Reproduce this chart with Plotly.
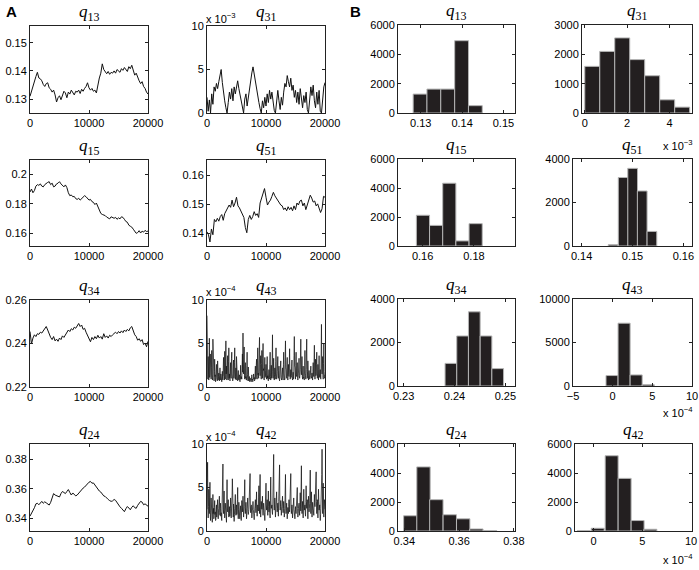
import plotly.graph_objects as go

W, H = 699, 570

# ---------------- data ----------------
iter_250 = list(range(0, 20001, 250))
iter_200 = list(range(0, 20001, 200))
iter_50 = list(range(0, 20001, 50))

q13_trace = [0.131, 0.133, 0.1345, 0.137, 0.138, 0.1395, 0.1375, 0.1372, 0.1365, 0.1352,
             0.1345, 0.1355, 0.1358, 0.134, 0.1335, 0.1325, 0.1332, 0.1315, 0.129, 0.1305,
             0.1312, 0.1298, 0.1318, 0.1328, 0.1322, 0.1305, 0.1325, 0.1318, 0.1332, 0.1322,
             0.1315, 0.1328, 0.1325, 0.1332, 0.132, 0.1335, 0.1328, 0.1338, 0.1345, 0.1358,
             0.134, 0.1332, 0.1338, 0.1328, 0.1332, 0.1322, 0.1352, 0.1375, 0.1392, 0.1425,
             0.1405, 0.1395, 0.139, 0.1398, 0.1388, 0.1395, 0.1392, 0.140, 0.1392, 0.1405,
             0.1398, 0.1395, 0.1408, 0.1402, 0.1412, 0.1405, 0.1398, 0.1415, 0.1408, 0.142,
             0.1402, 0.1385, 0.1392, 0.1375, 0.1365, 0.1355, 0.1362, 0.1345, 0.1338, 0.1325,
             0.1318]

q31_trace = [1.8, 0.2, 1.5, 0.0, 2.2, 1.0, 3.0, 2.5, 3.4, 2.8,
             3.6, 4.2, 5.0, 3.5, 2.2, 1.4, 0.6, 0.0, 1.2, 2.4,
             1.6, 2.8, 1.4, 3.0, 2.2, 3.2, 3.7, 2.8, 2.0, 1.1,
             0.4, 0.0, 1.6, 2.2, 0.8, 1.8, 3.2, 4.0, 4.6, 5.3,
             4.4, 3.8, 2.6, 2.0, 1.2, 0.5, 0.0, 1.4, 0.6, 1.8,
             0.8, 2.2, 1.2, 2.6, 1.6, 2.4, 1.0, 0.3, 0.0, 1.2,
             2.6, 1.4, 0.4, 1.8, 0.9, 2.4, 3.4, 3.0, 4.3, 3.6,
             3.0, 4.0, 2.6, 3.2, 1.8, 2.6, 1.2, 2.4, 1.0, 2.8,
             1.6, 0.6, 2.0, 1.2, 2.4, 0.4, 0.0, 1.6, 3.0, 2.0,
             3.2, 1.4, 0.6, 2.4, 1.0, 2.6, 0.2, 0.0, 2.2, 3.0,
             3.5]

q15_trace = [0.188, 0.190, 0.1875, 0.189, 0.192, 0.193, 0.1925, 0.1935, 0.192, 0.1915,
             0.193, 0.194, 0.1945, 0.195, 0.193, 0.194, 0.1915, 0.192, 0.1935, 0.194,
             0.195, 0.1935, 0.1925, 0.1915, 0.1928, 0.191, 0.1875, 0.1855, 0.186, 0.1848,
             0.185, 0.1835, 0.183, 0.1838, 0.1825, 0.1835, 0.184, 0.1855, 0.1848, 0.1832,
             0.1825, 0.183, 0.1815, 0.181, 0.1795, 0.1805, 0.178, 0.1765, 0.1735, 0.1728,
             0.1725, 0.172, 0.171, 0.1705, 0.1698, 0.1712, 0.1705, 0.1702, 0.1708, 0.1695,
             0.1705, 0.1698, 0.1712, 0.1708, 0.1695, 0.168, 0.1675, 0.1655, 0.1648, 0.1642,
             0.1628, 0.1615, 0.160, 0.1605, 0.1618, 0.1602, 0.1615, 0.1608, 0.162, 0.1612,
             0.1615]

q51_trace = [0.1405, 0.1395, 0.1370, 0.1415, 0.1395, 0.1448, 0.1440, 0.1452, 0.1442, 0.1458,
             0.1465, 0.1445, 0.1468, 0.1478, 0.1485, 0.1498, 0.1490, 0.1515, 0.1492, 0.1505,
             0.1525, 0.1495, 0.1488, 0.1478, 0.1465, 0.1455, 0.1420, 0.1402, 0.1448, 0.1462,
             0.1448, 0.1458, 0.1475, 0.1462, 0.1468, 0.1455, 0.1505, 0.1522, 0.1538, 0.1555,
             0.1525, 0.1498, 0.1508, 0.1515, 0.1528, 0.1542, 0.1530, 0.1522, 0.1512, 0.1505,
             0.1498, 0.1495, 0.1482, 0.1488, 0.1478, 0.1492, 0.1482, 0.1490, 0.1478, 0.1495,
             0.1482, 0.1505, 0.1498, 0.1512, 0.1515, 0.1495, 0.1505, 0.1482, 0.1498, 0.1515,
             0.1532, 0.1522, 0.1508, 0.1512, 0.1495, 0.1502, 0.1488, 0.1472, 0.1485, 0.1528,
             0.1525]

q34_trace = [0.2455, 0.2398, 0.2425, 0.2440, 0.2432, 0.2445, 0.2442, 0.2452, 0.2448, 0.2460,
             0.2465, 0.2478, 0.2462, 0.2442, 0.2428, 0.2418, 0.2432, 0.2412, 0.2420, 0.2410,
             0.2425, 0.2418, 0.2435, 0.2428, 0.2440, 0.2448, 0.2462, 0.2455, 0.2468, 0.2462,
             0.2475, 0.2470, 0.2482, 0.2492, 0.2478, 0.2485, 0.2465, 0.2470, 0.2452, 0.2435,
             0.2425, 0.2408, 0.2428, 0.2418, 0.2432, 0.2422, 0.2438, 0.2425, 0.2432, 0.2420,
             0.2445, 0.2428, 0.2435, 0.2425, 0.2438, 0.2432, 0.2440, 0.2448, 0.2452, 0.2445,
             0.2455, 0.2448, 0.2458, 0.2450, 0.2462, 0.2455, 0.2465, 0.2458, 0.2472, 0.2478,
             0.2455, 0.2440, 0.2432, 0.2415, 0.2422, 0.2410, 0.2418, 0.2395, 0.2402, 0.2385,
             0.2410]

q43_trace = [8.2, 2.5, 1.2, 0.9, 3.5, 1.6, 0.8, 2.9, 5.6, 1.1, 1.5, 3.8, 2.8, 1.0, 0.9, 2.2, 4.2, 1.4, 1.1, 0.8,
             5.5, 2.4, 2.0, 0.9, 0.7, 1.8, 3.2, 1.2, 1.4, 0.6, 0.9, 2.0, 2.6, 1.1, 1.0, 0.7, 3.0, 1.5, 0.8, 1.2,
             1.6, 0.9, 0.7, 1.3, 2.2, 0.8, 0.9, 1.5, 1.3, 0.7, 0.6, 1.2, 1.8, 0.9, 0.8, 2.0, 3.4, 1.3, 1.2, 0.8,
             4.1, 1.6, 0.9, 2.8, 5.3, 1.5, 2.4, 0.8, 1.0, 2.2, 3.6, 1.1, 0.8, 2.9, 4.5, 1.0, 1.5, 0.9, 0.7, 1.8,
             2.8, 1.2, 1.0, 3.3, 4.0, 1.5, 1.3, 0.7, 0.8, 2.4, 3.1, 1.0, 1.1, 2.8, 4.5, 1.6, 0.9, 1.2, 2.2, 0.8,
             3.5, 1.4, 1.0, 0.8, 0.7, 1.5, 1.9, 0.9, 0.8, 1.2, 1.4, 0.7, 0.6, 1.3, 2.5, 0.9, 1.2, 2.0, 0.9, 2.6,
             3.8, 1.7, 6.2, 2.0, 1.5, 3.0, 4.6, 1.3, 0.9, 2.1, 2.8, 1.0, 1.2, 0.8, 0.8, 2.5, 4.0, 1.4, 1.1, 0.7,
             2.3, 1.0, 0.7, 1.1, 1.2, 0.6, 0.8, 1.0, 1.0, 0.7, 0.6, 1.2, 1.4, 0.8, 0.9, 0.6, 0.7, 1.1, 1.5, 0.9,
             1.1, 0.7, 0.8, 1.6, 2.4, 0.9, 1.0, 2.5, 3.2, 1.2, 0.9, 3.0, 4.5, 1.4, 1.6, 1.0, 2.8, 3.9, 5.7, 1.8,
             1.3, 2.6, 3.6, 1.2, 0.9, 2.7, 4.2, 1.5, 1.0, 3.3, 5.0, 1.9, 2.1, 0.9, 0.8, 2.4, 3.4, 1.1, 1.2, 1.9,
             2.6, 1.3, 0.9, 2.2, 3.5, 1.0, 1.3, 0.8, 0.7, 1.5, 2.0, 0.9, 1.1, 2.6, 4.0, 1.2, 0.8, 1.7, 2.5, 1.0,
             1.4, 3.1, 6.0, 1.8, 1.0, 2.3, 3.3, 1.1, 0.8, 1.4, 2.2, 0.9, 1.2, 2.9, 4.5, 1.5, 0.9, 1.1, 1.8, 2.6,
             3.5, 1.3, 1.0, 1.9, 2.4, 0.9, 0.7, 1.1, 1.6, 2.4, 3.0, 1.1, 0.9, 0.8, 1.4, 1.9, 2.2, 1.0, 0.8, 2.6,
             4.0, 1.5, 1.3, 0.8, 0.9, 3.4, 5.3, 2.2, 2.0, 1.0, 1.1, 2.6, 3.4, 1.2, 0.8, 1.7, 2.6, 1.4, 1.2, 2.9,
             4.4, 1.6, 0.9, 1.2, 2.0, 1.1, 1.3, 2.4, 3.1, 1.0, 0.8, 1.2, 1.7, 0.9, 1.0, 3.6, 5.8, 2.4, 2.2, 1.0,
             0.9, 2.5, 4.0, 1.4, 1.2, 2.1, 2.8, 1.0, 0.8, 1.1, 1.6, 2.4, 3.3, 1.3, 1.0, 1.4, 2.0, 3.6, 5.5, 1.9,
             1.4, 2.2, 3.5, 1.2, 0.9, 1.7, 2.4, 1.0, 1.1, 0.9, 0.8, 2.5, 4.2, 1.6, 1.3, 0.9, 2.0, 3.5, 5.5, 2.0,
             1.0, 1.8, 3.0, 1.1, 0.8, 1.3, 1.9, 0.9, 0.9, 1.0, 1.3, 1.9, 2.4, 1.2, 1.0, 1.3, 1.6, 1.0, 0.8, 1.8,
             2.8, 1.4, 1.2, 2.9, 4.8, 1.6, 0.9, 1.8, 3.2, 1.3, 1.4, 2.6, 4.0, 1.5, 1.0, 1.6, 2.6, 1.2, 0.8, 2.0,
             3.6, 1.5, 1.1, 1.4, 2.0, 1.0, 0.9, 3.8, 7.2, 2.3, 1.5, 2.2, 3.5, 1.3, 0.9, 2.7, 5.0, 1.8, 1.2, 1.0,
             1.4]

q24_trace = [0.3415, 0.3432, 0.3448, 0.3472, 0.3498, 0.3502, 0.3492, 0.3508, 0.3515, 0.3502,
             0.3512, 0.3505, 0.3498, 0.3490, 0.3508, 0.3532, 0.3568, 0.3558, 0.3552, 0.3548,
             0.3545, 0.3568, 0.3582, 0.3575, 0.3568, 0.3582, 0.3595, 0.3575, 0.3558, 0.3572,
             0.3565, 0.3552, 0.3558, 0.3572, 0.3585, 0.3592, 0.3605, 0.3612, 0.3625, 0.3632,
             0.3645, 0.3650, 0.3638, 0.3640, 0.3625, 0.3612, 0.3598, 0.3585, 0.3578, 0.3565,
             0.3552, 0.3548, 0.3535, 0.3528, 0.3520, 0.3515, 0.3518, 0.3528, 0.3522, 0.3505,
             0.3490, 0.3478, 0.3468, 0.3455, 0.3445, 0.3465, 0.3480, 0.3470, 0.3458, 0.3475,
             0.3485, 0.3472, 0.3468, 0.3488, 0.3502, 0.3515, 0.3510, 0.3492, 0.3498, 0.3488,
             0.3482]

q42_trace = [2.5, 4.6, 7.9, 3.0, 1.5, 2.8, 4.8, 2.2, 2.0, 3.9, 5.6, 2.1, 1.2, 2.4, 3.8, 1.8, 2.4, 1.5, 1.0, 3.1,
             4.2, 2.0, 2.6, 1.4, 1.6, 2.7, 3.5, 1.9, 2.2, 1.2, 1.3, 2.5, 3.0, 1.6, 2.0, 2.9, 3.6, 2.2, 1.4, 2.3,
             2.6, 3.3, 4.0, 2.1, 1.8, 2.6, 3.2, 1.7, 2.1, 1.5, 1.2, 2.4, 3.4, 5.1, 7.7, 2.5, 2.0, 3.3, 4.6, 2.4,
             1.5, 2.3, 3.2, 1.8, 2.4, 1.3, 1.0, 3.6, 5.9, 2.4, 2.2, 2.9, 3.6, 2.0, 1.6, 2.1, 2.8, 1.7, 2.0, 2.6,
             3.8, 2.2, 1.5, 2.1, 2.6, 4.1, 6.0, 2.8, 2.0, 1.6, 3.1, 2.3, 1.1, 1.9, 2.6, 3.3, 4.2, 2.4, 1.8, 2.7,
             3.0, 1.9, 2.2, 3.6, 5.0, 2.3, 1.4, 2.5, 3.3, 1.7, 2.4, 1.4, 1.8, 2.3, 2.9, 2.0, 1.2, 2.4, 3.5, 2.6,
             2.2, 3.0, 4.0, 2.1, 1.6, 2.2, 2.8, 3.9, 5.9, 2.6, 2.0, 2.7, 3.3, 1.9, 1.4, 2.0, 2.6, 3.0, 3.8, 2.2,
             1.9, 2.2, 2.5, 3.6, 4.4, 5.3, 6.6, 2.9, 2.1, 2.5, 3.0, 2.0, 1.5, 1.9, 2.4, 2.8, 3.4, 2.5, 2.0, 1.5,
             1.3, 2.0, 2.8, 3.1, 3.6, 2.6, 2.1, 3.3, 4.5, 2.4, 1.7, 2.3, 3.0, 2.5, 2.3, 3.9, 5.2, 2.8, 2.0, 4.4,
             6.5, 2.5, 1.6, 2.4, 3.4, 2.8, 2.5, 3.2, 4.0, 2.3, 1.8, 2.4, 3.2, 2.6, 2.2, 1.5, 1.2, 2.1, 3.0, 4.3,
             5.5, 3.0, 2.4, 2.9, 3.6, 2.4, 1.8, 3.3, 4.6, 2.8, 2.2, 2.6, 3.4, 2.0, 1.5, 3.9, 6.2, 3.1, 2.6, 2.7,
             3.0, 2.2, 1.9, 3.0, 4.2, 6.1, 8.8, 3.2, 2.4, 3.0, 3.8, 2.3, 1.6, 2.2, 3.0, 3.6, 4.5, 2.9, 2.2, 2.6,
             3.2, 2.1, 1.7, 3.4, 5.0, 6.2, 7.6, 3.0, 2.4, 2.8, 3.5, 2.2, 1.8, 2.3, 2.8, 3.3, 4.0, 2.6, 2.1, 2.6,
             3.4, 2.0, 1.6, 2.0, 2.6, 4.3, 6.5, 2.9, 2.0, 2.6, 3.2, 2.0, 1.4, 2.0, 2.7, 2.2, 2.0, 2.8, 3.6, 2.5,
             2.2, 3.1, 4.2, 5.2, 6.6, 2.8, 2.0, 2.4, 3.0, 1.9, 1.5, 2.1, 2.6, 3.2, 3.8, 2.5, 2.1, 1.6, 1.4, 2.2,
             2.8, 2.3, 2.0, 2.8, 3.5, 4.2, 5.0, 2.6, 1.6, 2.0, 2.6, 2.9, 3.2, 2.3, 1.8, 3.0, 4.4, 3.0, 2.3, 4.8,
             7.5, 3.2, 2.0, 2.6, 3.4, 2.2, 1.5, 3.1, 4.8, 3.0, 2.4, 2.7, 3.0, 2.1, 1.7, 3.3, 5.2, 3.4, 2.6, 3.1,
             3.6, 2.2, 1.4, 2.6, 4.0, 2.9, 2.2, 2.6, 3.2, 5.0, 7.0, 3.2, 2.0, 3.1, 4.5, 2.6, 1.6, 2.4, 3.3, 2.8,
             2.5, 2.1, 1.8, 2.9, 4.2, 3.3, 2.8, 4.1, 5.6, 6.2, 6.8, 3.4, 2.0, 2.7, 3.6, 2.3, 1.5, 3.0, 4.8, 3.4,
             2.4, 2.7, 3.0, 2.0, 1.2, 1.9, 2.6, 3.4, 4.0, 6.5, 9.4, 4.0, 2.0, 3.6, 5.5, 2.9, 1.6, 2.5, 3.6, 3.0,
             2.5]

# histograms: bin centres, bin width, counts
q13_bins = [0.12984, 0.13317, 0.13651, 0.13988, 0.14321]
q13_width = 0.00334
q13_counts = [1290, 1630, 1630, 4930, 500]

q31_bins = [0.354, 1.061, 1.768, 2.475, 3.182, 3.889, 4.596]
q31_width = 0.707
q31_counts = [1590, 2100, 2560, 1820, 1270, 450, 200]

q15_bins = [0.16013, 0.16526, 0.17039, 0.17552, 0.18066]
q15_width = 0.00513
q15_counts = [2120, 1420, 4330, 350, 1540]

q51_bins = [0.14619, 0.14816, 0.15003, 0.15191, 0.15382]
q51_width = 0.00191
q51_counts = [60, 3150, 3570, 2530, 670]

q34_bins = [0.2393, 0.2416, 0.2439, 0.2462, 0.2485]
q34_width = 0.0023
q34_counts = [1040, 2300, 3410, 2300, 800]

q43_bins = [-0.08, 1.44, 2.96, 4.48]
q43_width = 1.52
q43_counts = [1200, 7220, 1270, 150]

q24_bins = [0.3422, 0.3470, 0.3517, 0.3566, 0.3615, 0.3663, 0.3713]
q24_width = 0.00488
q24_counts = [1050, 4420, 2160, 1120, 840, 140, 20]

q42_bins = [-1.0, 0.43, 1.86, 3.19, 4.52, 5.83]
q42_width = 1.33
q42_counts = [20, 190, 5190, 3630, 720, 120]

# tick labels
iter_ticks = [0, 10000, 20000]
iter_labels = ["0", "10000", "20000"]

# ---------------- layout spec ----------------
TICKFONT = dict(family="Liberation Sans, Arial, sans-serif", size=11, color="#000")
TITLEFONT = dict(family="Liberation Serif, DejaVu Serif, serif", size=17, color="#000")
LINE = "#222"

panels = [
    dict(kind="line", x=iter_250, y=q13_trace, sub="13", box=(30, 148, 26, 113),
         xr=[0, 20000], yr=[0.1251, 0.1559], xt=iter_ticks, xl=iter_labels,
         yt=[0.13, 0.14, 0.15], yl=["0.13", "0.14", "0.15"]),
    dict(kind="line", x=iter_200, y=q31_trace, sub="31", box=(207, 325, 26, 113),
         xr=[0, 20000], yr=[0, 10], xt=iter_ticks, xl=iter_labels,
         yt=[0, 5, 10], yl=["0", "5", "10"]),
    dict(kind="line", x=iter_250, y=q15_trace, sub="15", box=(30, 148, 160, 246),
         xr=[0, 20000], yr=[0.1514, 0.2097], xt=iter_ticks, xl=iter_labels,
         yt=[0.16, 0.18, 0.2], yl=["0.16", "0.18", "0.2"]),
    dict(kind="line", x=iter_250, y=q51_trace, sub="51", box=(207, 325, 160, 246),
         xr=[0, 20000], yr=[0.1356, 0.1654], xt=iter_ticks, xl=iter_labels,
         yt=[0.14, 0.15, 0.16], yl=["0.14", "0.15", "0.16"]),
    dict(kind="line", x=iter_250, y=q34_trace, sub="34", box=(30, 148, 300, 387),
         xr=[0, 20000], yr=[0.22, 0.26], xt=iter_ticks, xl=iter_labels,
         yt=[0.22, 0.24, 0.26], yl=["0.22", "0.24", "0.26"]),
    dict(kind="noisy", x=iter_50, y=q43_trace, sub="43", box=(207, 325, 300, 387),
         xr=[0, 20000], yr=[0, 10], xt=iter_ticks, xl=iter_labels,
         yt=[0, 5, 10], yl=["0", "5", "10"]),
    dict(kind="line", x=iter_250, y=q24_trace, sub="24", box=(30, 148, 444, 531),
         xr=[0, 20000], yr=[0.3314, 0.3904], xt=iter_ticks, xl=iter_labels,
         yt=[0.34, 0.36, 0.38], yl=["0.34", "0.36", "0.38"]),
    dict(kind="noisy", x=iter_50, y=q42_trace, sub="42", box=(207, 325, 444, 531),
         xr=[0, 20000], yr=[0, 10], xt=iter_ticks, xl=iter_labels,
         yt=[0, 5, 10], yl=["0", "5", "10"]),
    dict(kind="bar", x=q13_bins, y=q13_counts, w=q13_width, sub="13", box=(398, 515, 25, 113),
         xr=[0.1245, 0.1528], yr=[0, 6000], xt=[0.13, 0.14, 0.15], xl=["0.13", "0.14", "0.15"],
         yt=[0, 2000, 4000, 6000], yl=["0", "2000", "4000", "6000"]),
    dict(kind="bar", x=q31_bins, y=q31_counts, w=q31_width, sub="31", box=(582, 692, 25, 113),
         xr=[-0.13, 5.06], yr=[0, 3000], xt=[0, 2, 4], xl=["0", "2", "4"],
         yt=[0, 1000, 2000, 3000], yl=["0", "1000", "2000", "3000"]),
    dict(kind="bar", x=q15_bins, y=q15_counts, w=q15_width, sub="15", box=(398, 515, 159, 246),
         xr=[0.1504, 0.196], yr=[0, 6000], xt=[0.16, 0.18], xl=["0.16", "0.18"],
         yt=[0, 2000, 4000, 6000], yl=["0", "2000", "4000", "6000"]),
    dict(kind="bar", x=q51_bins, y=q51_counts, w=q51_width, sub="51", box=(573, 692, 159, 246),
         xr=[0.1383, 0.1617], yr=[0, 4000], xt=[0.14, 0.15, 0.16], xl=["0.14", "0.15", "0.16"],
         yt=[0, 2000, 4000], yl=["0", "2000", "4000"]),
    dict(kind="bar", x=q34_bins, y=q34_counts, w=q34_width, sub="34", box=(398, 515, 299, 386),
         xr=[0.2289, 0.2519], yr=[0, 4000], xt=[0.23, 0.24, 0.25], xl=["0.23", "0.24", "0.25"],
         yt=[0, 2000, 4000], yl=["0", "2000", "4000"]),
    dict(kind="bar", x=q43_bins, y=q43_counts, w=q43_width, sub="43", box=(573, 692, 299, 386),
         xr=[-5, 10], yr=[0, 10000], xt=[-5, 0, 5, 10], xl=["\u22125", "0", "5", "10"],
         yt=[0, 5000, 10000], yl=["0", "5000", "10000"]),
    dict(kind="bar", x=q24_bins, y=q24_counts, w=q24_width, sub="24", box=(398, 515, 444, 531),
         xr=[0.3377, 0.3804], yr=[0, 6000], xt=[0.34, 0.36, 0.38], xl=["0.34", "0.36", "0.38"],
         yt=[0, 2000, 4000, 6000], yl=["0", "2000", "4000", "6000"]),
    dict(kind="bar", x=q42_bins, y=q42_counts, w=q42_width, sub="42", box=(575, 692, 444, 531),
         xr=[-1.9, 10.1], yr=[0, 6000], xt=[0, 5, 10], xl=["0", "5", "10"],
         yt=[0, 2000, 4000, 6000], yl=["0", "2000", "4000", "6000"]),
]

fig = go.Figure()
layout = dict(width=W, height=H, margin=dict(l=0, r=0, t=0, b=0, autoexpand=False),
              paper_bgcolor="white", plot_bgcolor="white", showlegend=False)
annotations = []


def axis(domain, rng, tv, tt, anchor):
    return dict(domain=domain, range=rng, tickvals=tv, ticktext=tt, anchor=anchor,
                showline=True, mirror="ticks", linecolor=LINE, linewidth=1,
                ticks="inside", ticklen=3, tickwidth=1, tickcolor=LINE,
                showgrid=False, zeroline=False, tickfont=TICKFONT, fixedrange=True,
                automargin=False)


for i, p in enumerate(panels, start=1):
    xa = "x" if i == 1 else f"x{i}"
    ya = "y" if i == 1 else f"y{i}"
    x0, x1, yt, yb = p["box"]
    if p["kind"] == "bar":
        fig.add_trace(go.Bar(x=p["x"], y=p["y"], width=p["w"], xaxis=xa, yaxis=ya,
                             marker=dict(color="#231f20", line=dict(color="#b4b4b4", width=1))))
    else:
        lw = 1.0 if p["kind"] == "line" else 0.75
        col = "#111111" if p["kind"] == "line" else "#161616"
        fig.add_trace(go.Scatter(x=p["x"], y=p["y"], mode="lines", xaxis=xa, yaxis=ya,
                                 line=dict(color=col, width=lw)))
    layout["xaxis" if i == 1 else f"xaxis{i}"] = axis([x0 / W, x1 / W], p["xr"], p["xt"], p["xl"], ya)
    layout["yaxis" if i == 1 else f"yaxis{i}"] = axis([1 - yb / H, 1 - yt / H], p["yr"], p["yt"], p["yl"], xa)
    annotations.append(dict(xref="paper", yref="paper", x=(x0 + x1) / 2 / W, y=1 - (yt - 13) / H,
                            text=f"<i>q</i><sub><span style='font-size:12px'>{p['sub']}</span></sub>",
                            showarrow=False, font=TITLEFONT, xanchor="center", yanchor="middle"))

EXPFONT = dict(family="Liberation Sans, Arial, sans-serif", size=11, color="#000")
exps = [
    ("x 10<sup>\u22123</sup>", 204, 27, "left", "bottom"),
    ("x 10<sup>\u22124</sup>", 204, 300, "left", "bottom"),
    ("x 10<sup>\u22124</sup>", 204, 445, "left", "bottom"),
    ("x 10<sup>\u22123</sup>", 695, 145, "right", "middle"),
    ("x 10<sup>\u22124</sup>", 695, 412, "right", "middle"),
    ("x 10<sup>\u22124</sup>", 695, 559, "right", "middle"),
]
for txt, px, py, xan, yan in exps:
    annotations.append(dict(xref="paper", yref="paper", x=px / W, y=1 - py / H, text=txt,
                            showarrow=False, font=EXPFONT, xanchor=xan, yanchor=yan))

for lab, px in (("A", 11), ("B", 355)):
    annotations.append(dict(xref="paper", yref="paper", x=px / W, y=1 - 12 / H, text=f"<b>{lab}</b>",
                            showarrow=False, font=dict(family="Liberation Sans, Arial", size=15, color="#000"),
                            xanchor="center", yanchor="middle"))

layout["annotations"] = annotations
fig.update_layout(**layout)
fig.write_html("out.html", config={"displayModeBar": False},
               post_script="document.body.style.margin='0';document.body.style.padding='0';")
